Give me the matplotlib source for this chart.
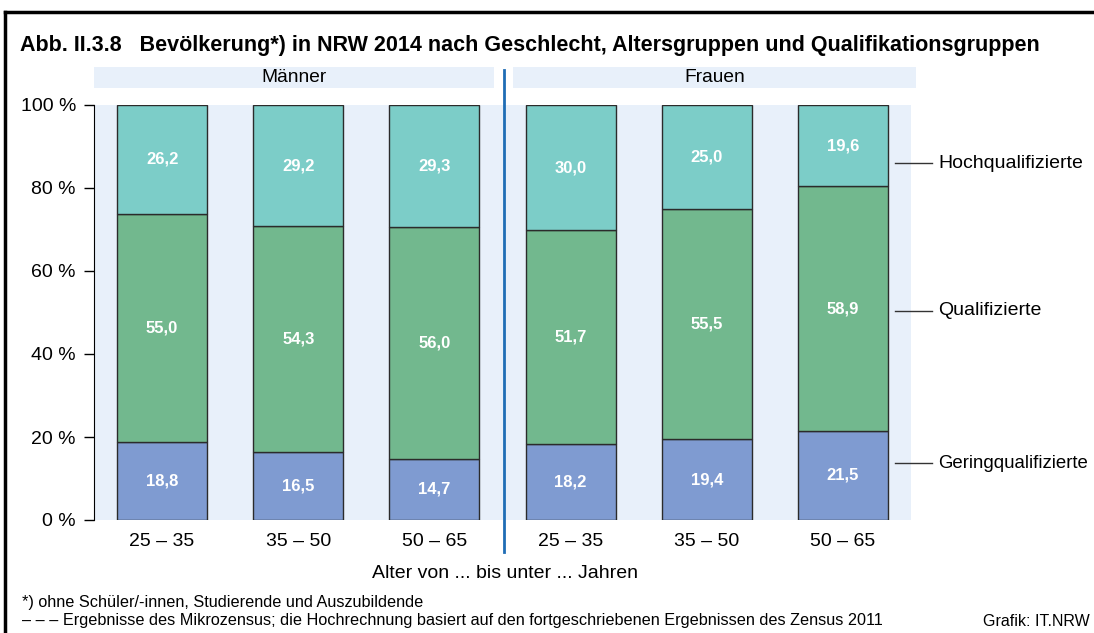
import matplotlib
matplotlib.use("Agg")
import matplotlib.pyplot as plt
from matplotlib.lines import Line2D
from matplotlib.patches import Rectangle
from matplotlib import font_manager

plt.rcParams['font.family'] = ['Liberation Sans', 'DejaVu Sans']

# ---- data ----
age_groups = ["25 – 35", "35 – 50", "50 – 65", "25 – 35", "35 – 50", "50 – 65"]
genders = ["Männer", "Frauen"]
gering = [18.8, 16.5, 14.7, 18.2, 19.4, 21.5]
qualifiziert = [55.0, 54.3, 56.0, 51.7, 55.5, 58.9]
hoch = [26.2, 29.2, 29.3, 30.0, 25.0, 19.6]
series_names = ["Geringqualifizierte", "Qualifizierte", "Hochqualifizierte"]
y_ticks = [0, 20, 40, 60, 80, 100]
y_ticklabels = ["0 %", "20 %", "40 %", "60 %", "80 %", "100 %"]

colors = ["#7f9bd1", "#72b88e", "#7ccdc8"]
bg = "#e8f0fa"

W, H = 1094, 633
fig = plt.figure(figsize=(W / 100, H / 100), dpi=100)

def fx(px):
    return px / W

def fy(py):
    return 1 - py / H

# frame
fig.add_artist(Line2D([fx(5), fx(1094)], [fy(12), fy(12)], color="black", lw=2.5))
fig.add_artist(Line2D([fx(5), fx(5)], [fy(12), fy(633)], color="black", lw=2.5))

# title
names = {f.name for f in font_manager.fontManager.ttflist}
title_font = "Liberation Sans Narrow" if "Liberation Sans Narrow" in names else "Liberation Sans"
fig.text(fx(20), fy(45), "Abb. II.3.8   Bevölkerung*) in NRW 2014 nach Geschlecht, Altersgruppen und Qualifikationsgruppen",
         fontsize=15.5, fontweight="bold", family=[title_font, "DejaVu Sans"], va="center", ha="left")

ax = fig.add_axes([fx(94), fy(520), fx(911) - fx(94), fy(105) - fy(520)])
ax.set_facecolor(bg)
x = list(range(len(age_groups)))
bw = 0.66
stack = [gering, qualifiziert, hoch]
bottoms = [0] * len(x)
for vals, col in zip(stack, colors):
    ax.bar(x, vals, bw, bottom=bottoms, color=col, edgecolor="#2b2b2b", linewidth=1, zorder=2)
    for xi, v, b in zip(x, vals, bottoms):
        ax.text(xi, b + v / 2, f"{v:.1f}".replace(".", ","), ha="center", va="center",
                color="white", fontweight="bold", fontsize=12, zorder=3)
    bottoms = [b + v for b, v in zip(bottoms, vals)]

ax.set_xlim(-0.5, 5.5)
ax.set_ylim(0, 100)
ax.set_yticks(y_ticks)
ax.set_yticklabels(y_ticklabels, fontsize=14)
ax.set_xticks(x)
ax.set_xticklabels(age_groups, fontsize=14)
ax.tick_params(axis="x", length=0, pad=9)
ax.tick_params(axis="y", length=7, width=1, direction="out", pad=6)
for s in ["top", "right", "bottom"]:
    ax.spines[s].set_visible(False)
ax.spines["left"].set_color("black")

# header boxes
for (x0, x1), g in zip([(94, 494), (513, 916)], genders):
    fig.add_artist(Rectangle((fx(x0), fy(88)), fx(x1) - fx(x0), fy(67) - fy(88),
                             facecolor=bg, edgecolor="none"))
    fig.text(fx((x0 + x1) / 2), fy(77.5), g, ha="center", va="center", fontsize=13.8)

# divider
fig.add_artist(Line2D([fx(504), fx(504)], [fy(70), fy(552)], color="#1f6db5", lw=2))

# series labels on the right
label_y = [463, 311, 163]
label_fs = [13.4, 14, 14]
for name, py, fs in zip(series_names, label_y, label_fs):
    fig.add_artist(Line2D([fx(895), fx(932)], [fy(py), fy(py)], color="#333333", lw=1))
    fig.text(fx(938), fy(py), name, ha="left", va="center", fontsize=fs)

fig.text(fx(505), fy(573), "Alter von ... bis unter ... Jahren", ha="center", va="center", fontsize=14)
fig.text(fx(22), fy(602), "*) ohne Schüler/-innen, Studierende und Auszubildende", ha="left", va="center", fontsize=11.7)
fig.text(fx(22), fy(621), "– – – Ergebnisse des Mikrozensus; die Hochrechnung basiert auf den fortgeschriebenen Ergebnissen des Zensus 2011",
         ha="left", va="center", fontsize=11.7)
fig.text(fx(983), fy(622), "Grafik: IT.NRW", ha="left", va="center", fontsize=11.5)

fig.savefig("out.png", dpi=100, facecolor="white")
